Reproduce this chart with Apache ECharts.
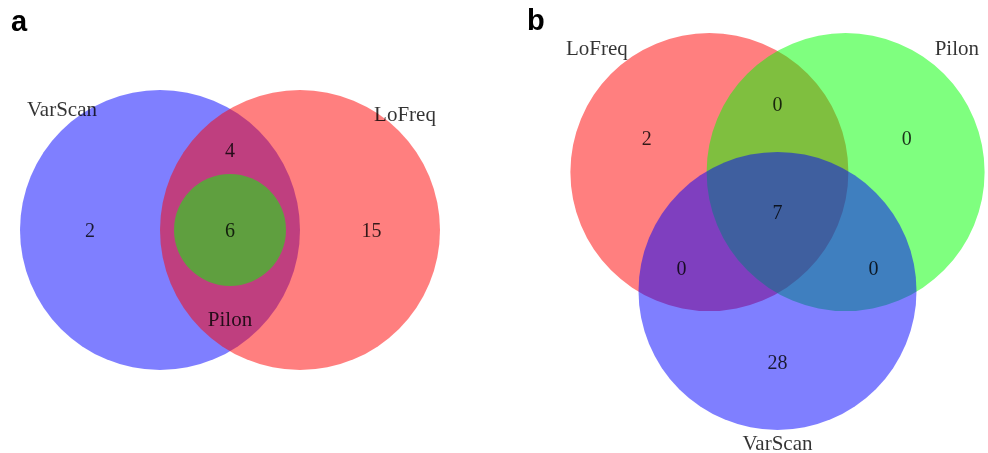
<!DOCTYPE html>
<html>
<head>
<meta charset="utf-8">
<style>
  html, body { margin: 0; padding: 0; background: #ffffff; }
  #chart { width: 988px; height: 453px; }
</style>
<script src="https://cdn.jsdelivr.net/npm/echarts@6/dist/echarts.min.js"></script>
</head>
<body>
<div id="chart"></div>
<script>
// Panel a: two callers overlap, Pilon sits entirely inside their intersection
const setNamesA = ['VarScan', 'LoFreq', 'Pilon'];
const regionLabelsA = ['VarScan only', 'VarScan & LoFreq', 'all three', 'LoFreq only'];
const regionCountsA = [2, 4, 6, 15];

// Panel b: classic three-set diagram
const setNamesB = ['LoFreq', 'Pilon', 'VarScan'];
const regionLabelsB = ['LoFreq only', 'LoFreq & Pilon', 'Pilon only', 'all three',
                       'LoFreq & VarScan', 'Pilon & VarScan', 'VarScan only'];
const regionCountsB = [2, 0, 0, 7, 0, 0, 28];

// Set colours (drawn half transparent so overlaps blend)
const setColours = { VarScan: 'rgba(0,0,255,0.5)', LoFreq: 'rgba(255,0,0,0.5)', Pilon: 'rgba(0,255,0,0.5)' };

// Diagram geometry in radius units: [cx, cy, r]
const circlesA = [[0, 0, 1], [1, 0, 1], [0.5, 0, 0.4]];
const circlesB = [[-0.49, 0.285, 1], [0.49, 0.285, 1], [0, -0.57, 1]];

// Anchors for set names and region counts, radius units
const nameAnchorsA = [[-0.70, 0.87], [1.75, 0.83], [0.5, -0.63]];
const countAnchorsA = [[-0.5, 0], [0.5, 0.57], [0.5, 0], [1.51, 0]];
const nameAnchorsB = [[-1.30, 1.18], [1.29, 1.18], [0, -1.66]];
const countAnchorsB = [[-0.94, 0.53], [0, 0.78], [0.93, 0.53], [0, 0], [-0.69, -0.40], [0.69, -0.40], [0, -1.08]];

const baseFont = { fontFamily: 'Liberation Serif', color: '#000000', textBorderWidth: 0 };

function circleSeries(idx, names, circles) {
  return names.map((name, i) => ({
    type: 'custom',
    name: name,
    xAxisIndex: idx, yAxisIndex: idx,
    z: 2 + i,
    silent: true,
    clip: false,
    data: [circles[i]],
    renderItem: function (params, api) {
      const c = api.coord([api.value(0), api.value(1)]);
      const r = api.size([api.value(2), 0])[0];
      return {
        type: 'circle',
        shape: { cx: c[0], cy: c[1], r: r },
        style: { fill: setColours[name], stroke: null }
      };
    }
  }));
}

function labelSeries(idx, texts, anchors, size) {
  return {
    type: 'scatter',
    xAxisIndex: idx, yAxisIndex: idx,
    z: 10,
    silent: true,
    clip: false,
    symbolSize: 0,
    data: texts.map((t, i) => ({ name: String(t), value: anchors[i] })),
    label: Object.assign({ show: true, position: 'inside', offset: [0, 2], formatter: '{b}', fontSize: size }, baseFont)
  };
}

const hiddenAxis = (min, max, idx) => ({
  type: 'value', min: min, max: max, gridIndex: idx, show: false,
  splitLine: { show: false }
});

const option = {
  backgroundColor: '#ffffff',
  animation: false,
  title: [
    { text: 'a', left: 6, top: 3, textStyle: { fontFamily: 'Liberation Sans', fontWeight: 'bold', fontSize: 29, color: '#000' } },
    { text: 'b', left: 522, top: 2, textStyle: { fontFamily: 'Liberation Sans', fontWeight: 'bold', fontSize: 29, color: '#000' } }
  ],
  grid: [
    { left: 6, top: 20, width: 448, height: 420 },
    { left: 513.4, top: 3.2, width: 472.6, height: 444.8 }
  ],
  xAxis: [hiddenAxis(-1.1, 2.1, 0), hiddenAxis(-1.9, 1.5, 1)],
  yAxis: [hiddenAxis(-1.5, 1.5, 0), hiddenAxis(-1.7, 1.5, 1)],
  series: [
    ...circleSeries(0, setNamesA, circlesA),
    ...circleSeries(1, setNamesB, circlesB),
    labelSeries(0, setNamesA, nameAnchorsA, 21),
    labelSeries(0, regionCountsA, countAnchorsA, 20),
    labelSeries(1, setNamesB, nameAnchorsB, 21),
    labelSeries(1, regionCountsB, countAnchorsB, 20)
  ]
};

const chart = echarts.init(document.getElementById('chart'), null, { renderer: 'canvas' });
chart.setOption(option);
</script>
</body>
</html>
